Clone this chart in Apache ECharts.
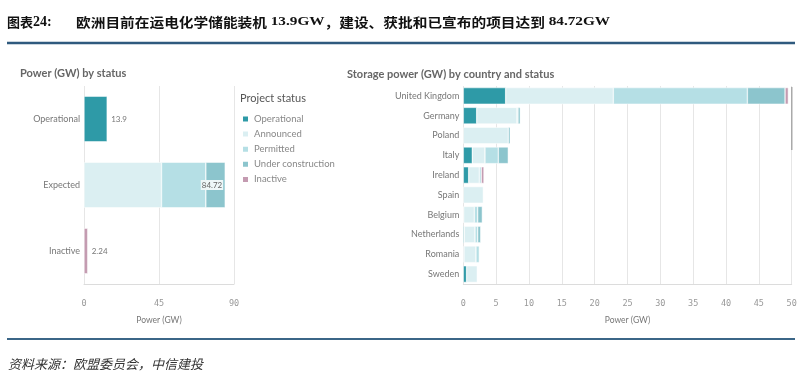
<!DOCTYPE html>
<html><head><meta charset="utf-8">
<script src="https://cdn.jsdelivr.net/npm/echarts@6/dist/echarts.min.js"></script>
<style>html,body{margin:0;padding:0;background:#fff}#c{width:805px;height:378px}</style>
</head><body><div id="c"></div>
<script>
// ---- data ----
const statusNames = ['Operational', 'Announced', 'Permitted', 'Under construction', 'Inactive'];
const statusColors = ['#2e9aa7', '#dbeff2', '#b5dfe5', '#8cc5cd', '#c49bb1'];

const leftCategories = ['Operational', 'Expected', 'Inactive'];
const leftOperational = [13.9, 0, 0];
const leftAnnounced = [0, 46.5, 0];
const leftPermitted = [0, 26.6, 0];
const leftUnderConstruction = [0, 11.62, 0];
const leftInactive = [0, 0, 2.24];
const leftAxisMax = 90, leftAxisStep = 45;

const countries = ['United Kingdom', 'Germany', 'Poland', 'Italy', 'Ireland', 'Spain', 'Belgium', 'Netherlands', 'Romania', 'Sweden'];
const cOperational = [6.45, 2.04, 0, 1.37, 0.82, 0, 0.05, 0.15, 0.1, 0.5];
const cAnnounced = [16.39, 6.14, 6.85, 1.93, 1.62, 3.05, 1.63, 1.63, 1.83, 1.63];
const cPermitted = [20.41, 0.15, 0, 2.03, 0.3, 0, 0.51, 0.41, 0.51, 0];
const cUnderConstruction = [5.74, 0.35, 0.3, 1.52, 0, 0, 0.71, 0.46, 0, 0];
const cInactive = [0.5, 0, 0, 0, 0.41, 0, 0, 0, 0, 0];
const rightAxisMax = 50, rightAxisStep = 5;

const headerText = '图表24:';
const headerMain = ['欧洲目前在运电化学储能装机', '13.9GW', '，建设、获批和已宣布的项目达到', '84.72GW'];
const sourceText = '资料来源：欧盟委员会，中信建投';

// ---- build ----
const leftSets = [leftOperational, leftAnnounced, leftPermitted, leftUnderConstruction, leftInactive];
const rightSets = [cOperational, cAnnounced, cPermitted, cUnderConstruction, cInactive];
const nz = arr => arr.map(v => (v > 0 ? v : '-'));
const leftTotal = i => leftSets.reduce((s, a) => s + a[i], 0);

const lab = { fontFamily: 'Lato', fontSize: 8, color: '#777' };

const series = [];
statusNames.forEach((name, k) => {
  const s = {
    type: 'bar', name, stack: 'L', xAxisIndex: 0, yAxisIndex: 0,
    data: nz(leftSets[k]), barCategoryGap: '31%',
    itemStyle: { color: statusColors[k], borderColor: '#fff', borderWidth: 0.5 },
    emphasis: { disabled: true }
  };
  if (name === 'Operational' || name === 'Inactive') {
    s.label = Object.assign({ show: true, position: 'right', distance: 4, formatter: p => p.value }, lab);
  }
  if (name === 'Under construction') {
    s.label = Object.assign({
      show: true, position: 'insideRight', distance: 2,
      formatter: p => leftTotal(p.dataIndex).toFixed(2),
      backgroundColor: '#eef7f8', padding: [1, 1]
    }, lab, { color: '#666' });
  }
  series.push(s);
});
statusNames.forEach((name, k) => {
  series.push({
    type: 'bar', name, stack: 'R', xAxisIndex: 1, yAxisIndex: 1,
    data: nz(rightSets[k]), barCategoryGap: '16%',
    itemStyle: { color: statusColors[k], borderColor: '#fff', borderWidth: 0.5 },
    emphasis: { disabled: true }
  });
});

const valueAxis = (grid, max, step) => ({
  type: 'value', gridIndex: grid, min: 0, max, interval: step,
  axisLine: { show: true, lineStyle: { color: '#dcdcdc' } },
  axisTick: { show: false },
  axisLabel: { fontFamily: 'DejaVu Sans Mono', fontSize: 8.5, color: '#999', margin: 15 },
  splitLine: { show: true, lineStyle: { color: '#e6e6e6' } },
  name: 'Power (GW)', nameLocation: 'middle', nameGap: 32,
  nameTextStyle: { fontFamily: 'Lato', fontSize: 8.5, color: '#777' }
});
const catAxis = (grid, data) => ({
  type: 'category', gridIndex: grid, data, inverse: true,
  axisLine: { show: false }, axisTick: { show: false },
  axisLabel: { fontFamily: 'Lato', fontSize: 9, color: '#777', margin: 4 }
});

const option = {
  animation: false,
  backgroundColor: '#fff',
  grid: [
    { left: 84, top: 86, width: 150, height: 198 },
    { left: 463.3, top: 86, width: 328.4, height: 198 }
  ],
  xAxis: [valueAxis(0, leftAxisMax, leftAxisStep), valueAxis(1, rightAxisMax, rightAxisStep)],
  yAxis: [catAxis(0, leftCategories), catAxis(1, countries)],
  legend: {
    data: statusNames, orient: 'vertical', left: 241, top: 114, padding: 0,
    itemWidth: 7, itemHeight: 7, itemGap: 5.1, icon: 'rect',
    selectedMode: false,
    textStyle: { fontFamily: 'Lato', fontSize: 9.5, color: '#888' }
  },
  series,
  graphic: [
    { type: 'text', x: 7, y: 22, style: {
      text: '{c|图表}{n|24:}', verticalAlign: 'middle',
      rich: {
        c: { fontFamily: 'Noto Sans CJK SC', fontWeight: 'bold', fontSize: 13, fill: '#111' },
        n: { fontFamily: 'Liberation Serif', fontWeight: 'bold', fontSize: 14, fill: '#111' }
      } } },
    { type: 'text', x: 76, y: 22, scaleX: 1.13, style: {
      text: '{c|' + headerMain[0] + '} {n|' + headerMain[1] + '}{c|' + headerMain[2] + '} {n|' + headerMain[3] + '}',
      verticalAlign: 'middle',
      rich: {
        c: { fontFamily: 'Noto Sans CJK SC', fontWeight: 'bold', fontSize: 13, fill: '#111' },
        n: { fontFamily: 'Liberation Serif', fontWeight: 'bold', fontSize: 13.5, fill: '#111' }
      } } },
    { type: 'line', shape: { x1: 7, y1: 43, x2: 795, y2: 43 }, style: { stroke: '#2f5a7e', lineWidth: 2.5 } },
    { type: 'line', shape: { x1: 7, y1: 339, x2: 795, y2: 339 }, style: { stroke: '#3b6687', lineWidth: 2 } },
    { type: 'text', x: 8, y: 364, style: { text: sourceText, verticalAlign: 'middle',
      fontFamily: 'Noto Sans CJK SC', fontStyle: 'italic', fontSize: 13, fill: '#333' } },
    { type: 'text', x: 20, y: 73, style: { text: 'Power (GW) by status', verticalAlign: 'middle',
      fontFamily: 'Lato', fontWeight: 'bold', fontSize: 11, fill: '#666' } },
    { type: 'text', x: 347, y: 74, style: { text: 'Storage power (GW) by country and status', verticalAlign: 'middle',
      fontFamily: 'Lato', fontWeight: 'bold', fontSize: 11, fill: '#666' } },
    { type: 'text', x: 240, y: 98, style: { text: 'Project status', verticalAlign: 'middle',
      fontFamily: 'Lato', fontSize: 11, fill: '#555' } },
    { type: 'rect', z: 100, shape: { x: 791, y: 87, width: 1.5, height: 63 }, style: { fill: '#aaa' } }
  ]
};
const chart = echarts.init(document.getElementById('c'), null, { renderer: 'canvas' });
chart.setOption(option);
</script>
</body></html>
